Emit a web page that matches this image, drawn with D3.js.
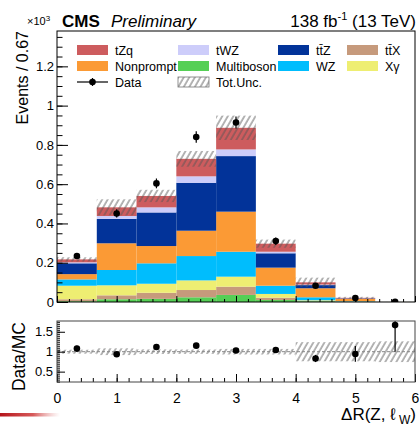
<!DOCTYPE html>
<meta charset="utf-8">
<script src="https://d3js.org/d3.v7.min.js"></script>
<style>
  body { margin: 0; background: #fff; }
  svg text { font-family: "Liberation Sans", Arial, sans-serif; fill: #000; }
</style>
<svg width="420" height="426"></svg>
<script>
// bin edges of dR(Z, l_W), 9 bins of 0.67
var edges = [0, 0.667, 1.333, 2, 2.667, 3.333, 4, 4.667, 5.333, 6];

// process yields per bin (x10^3 events), bottom of the stack first
var multiboson = [0.004, 0.014, 0.016, 0.024, 0.036, 0.010, 0.004, 0.0010, 0.0001];
var ttX        = [0.010, 0.020, 0.031, 0.037, 0.042, 0.012, 0.002, 0.0005, 0.0001];
var xgamma     = [0.069, 0.051, 0.046, 0.049, 0.051, 0.019, 0.003, 0.0010, 0.0];
var wz         = [0.032, 0.078, 0.104, 0.124, 0.127, 0.042, 0.015, 0.0020, 0.0001];
var nonprompt  = [0.027, 0.136, 0.088, 0.129, 0.204, 0.092, 0.046, 0.0110, 0.0001];
var ttZ        = [0.055, 0.124, 0.171, 0.244, 0.283, 0.073, 0.016, 0.0025, 0.0001];
var tWZ        = [0.005, 0.015, 0.026, 0.033, 0.034, 0.008, 0.003, 0.0005, 0.0];
var tZq        = [0.015, 0.044, 0.058, 0.089, 0.110, 0.041, 0.011, 0.0027, 0.0001];

// relative total uncertainty per bin
var totUnc = [0.05, 0.085, 0.058, 0.055, 0.07, 0.07, 0.24, 0.24, 0.26];

// observed data and its error (x10^3 events)
var data    = [0.234, 0.451, 0.604, 0.840, 0.914, 0.310, 0.083, 0.020, 0.001];
var dataErr = [0.015, 0.021, 0.025, 0.029, 0.030, 0.018, 0.009, 0.0042, 0.0004];

var procs = [
  {key: "Multiboson", vals: multiboson, color: "#55cf55"},
  {key: "ttX",        vals: ttX,        color: "#c69a7c"},
  {key: "Xgamma",     vals: xgamma,     color: "#eeee72"},
  {key: "WZ",         vals: wz,         color: "#00bdfd"},
  {key: "Nonprompt",  vals: nonprompt,  color: "#fb9a35"},
  {key: "ttZ",        vals: ttZ,        color: "#023399"},
  {key: "tWZ",        vals: tWZ,        color: "#cdcdfa"},
  {key: "tZq",        vals: tZq,        color: "#cd5c5e"}
];
var colorOf = {};
procs.forEach(function(p) { colorOf[p.key] = p.color; });

// legend rows, 4 columns
var legendRows = [
  [["tZq", "tZq"], ["tWZ", "tWZ"], ["ttZ", "tt\u0304Z"], ["ttX", "tt\u0304X"]],
  [["Nonprompt", "Nonprompt"], ["Multiboson", "Multiboson"], ["WZ", "WZ"], ["Xgamma", "X\u03b3"]],
  [["data", "Data"], ["unc", "Tot.Unc."]]
];

var yTicks = [0, 0.2, 0.4, 0.6, 0.8, 1, 1.2];
var rTicks = [0.5, 1, 1.5];
var xTicks = [0, 1, 2, 3, 4, 5, 6];

var svg = d3.select("svg");
var font = '"Liberation Sans", Arial, sans-serif';
var fmt = d3.format("~g");

var defs = svg.append("defs");
defs.append("pattern")
    .attr("id", "hatch")
    .attr("patternUnits", "userSpaceOnUse")
    .attr("width", 4.8).attr("height", 6)
    .attr("patternTransform", "rotate(30)")
  .append("line")
    .attr("x1", 1).attr("y1", 0).attr("x2", 1).attr("y2", 6)
    .attr("stroke", "#555").attr("stroke-width", 0.9);
defs.append("clipPath").attr("id", "clipMain")
  .append("rect").attr("x", 57).attr("y", 31).attr("width", 358).attr("height", 271);
defs.append("clipPath").attr("id", "clipRatio")
  .append("rect").attr("x", 57).attr("y", 321).attr("width", 358).attr("height", 61);
var grad = defs.append("linearGradient").attr("id", "smear");
grad.append("stop").attr("offset", "0%").attr("stop-color", "#b4141a").attr("stop-opacity", 1);
grad.append("stop").attr("offset", "55%").attr("stop-color", "#cc3030").attr("stop-opacity", 0.8);
grad.append("stop").attr("offset", "100%").attr("stop-color", "#e08080").attr("stop-opacity", 0);

var x = d3.scaleLinear().domain([0, 6]).range([57, 415]);
var y = d3.scaleLinear().domain([0, 1.38]).range([302, 31]);
var yr = d3.scaleLinear().domain([0.24, 1.77]).range([382, 321]);

// stacked histogram
var rows = edges.slice(0, -1).map(function(e, i) {
  var r = {lo: e, hi: edges[i + 1]};
  procs.forEach(function(p) { r[p.key] = p.vals[i]; });
  return r;
});
var stack = d3.stack().keys(procs.map(function(p) { return p.key; }))(rows);
var total = rows.map(function(r, i) {
  return d3.sum(procs, function(p) { return p.vals[i]; });
});

var main = svg.append("g").attr("clip-path", "url(#clipMain)");
main.selectAll("g.layer").data(stack).enter().append("g")
    .attr("fill", function(s) { return colorOf[s.key]; })
  .selectAll("rect").data(function(s) { return s; }).enter().append("rect")
    .attr("x", function(d) { return x(d.data.lo); })
    .attr("width", function(d) { return x(d.data.hi) - x(d.data.lo); })
    .attr("y", function(d) { return y(d[1]); })
    .attr("height", function(d) { return Math.max(0, y(d[0]) - y(d[1])); });

// uncertainty band
main.selectAll("rect.unc").data(rows).enter().append("rect")
    .attr("x", function(d) { return x(d.lo); })
    .attr("width", function(d) { return x(d.hi) - x(d.lo); })
    .attr("y", function(d, i) { return y(total[i] * (1 + totUnc[i])); })
    .attr("height", function(d, i) { return y(total[i] * (1 - totUnc[i])) - y(total[i] * (1 + totUnc[i])); })
    .attr("fill", "url(#hatch)");

// data points
var centers = rows.map(function(r) { return (r.lo + r.hi) / 2; });
main.selectAll("line.err").data(data).enter().append("line")
    .attr("x1", function(d, i) { return x(centers[i]); })
    .attr("x2", function(d, i) { return x(centers[i]); })
    .attr("y1", function(d, i) { return y(d - dataErr[i]); })
    .attr("y2", function(d, i) { return y(d + dataErr[i]); })
    .attr("stroke", "#000").attr("stroke-width", 1.2);
main.selectAll("circle").data(data).enter().append("circle")
    .attr("cx", function(d, i) { return x(centers[i]); })
    .attr("cy", function(d) { return y(d); })
    .attr("r", 3.3).attr("fill", "#000");

// axes of the main panel
function styleAxis(g) {
  g.select(".domain").remove();
  g.selectAll("line").attr("stroke", "#000");
  g.selectAll("text").attr("font-family", font).attr("fill", "#000");
}
svg.append("g").attr("transform", "translate(57,0)")
  .call(d3.axisLeft(y).tickValues(d3.range(0, 1.38, 0.05)).tickSize(-5.5).tickFormat(""))
  .call(styleAxis);
svg.append("g").attr("transform", "translate(57,0)")
  .call(d3.axisLeft(y).tickValues(yTicks).tickSize(-11).tickPadding(3).tickFormat(fmt))
  .call(styleAxis)
  .selectAll("text").attr("font-size", 13);
svg.append("g").attr("transform", "translate(0,302)")
  .call(d3.axisBottom(x).tickValues(d3.range(0, 6.01, 0.2)).tickSize(-3).tickFormat(""))
  .call(styleAxis);
svg.append("g").attr("transform", "translate(0,302)")
  .call(d3.axisBottom(x).tickValues(xTicks).tickSize(-6).tickFormat(""))
  .call(styleAxis);
svg.append("rect").attr("x", 57).attr("y", 31).attr("width", 358).attr("height", 271)
  .attr("fill", "none").attr("stroke", "#000").attr("stroke-width", 1);

// legend
var colX = [77, 178, 278, 347];
var txtX = [115, 216, 316, 385];
var rowY = [50, 66, 82];
var leg = svg.append("g");
legendRows.forEach(function(row, ri) {
  row.forEach(function(ent, ci) {
    var cy = rowY[ri];
    if (ent[0] === "data") {
      leg.append("line").attr("x1", colX[ci]).attr("x2", colX[ci] + 31)
        .attr("y1", cy).attr("y2", cy).attr("stroke", "#000").attr("stroke-width", 1.2);
      leg.append("line").attr("x1", colX[ci] + 15.5).attr("x2", colX[ci] + 15.5)
        .attr("y1", cy - 4).attr("y2", cy + 4).attr("stroke", "#000").attr("stroke-width", 1.2);
      leg.append("circle").attr("cx", colX[ci] + 15.5).attr("cy", cy).attr("r", 3.3).attr("fill", "#000");
    } else if (ent[0] === "unc") {
      leg.append("rect").attr("x", colX[ci]).attr("y", cy - 5).attr("width", 31).attr("height", 10)
        .attr("fill", "url(#hatch)").attr("stroke", "#777").attr("stroke-width", 0.8);
    } else {
      leg.append("rect").attr("x", colX[ci]).attr("y", cy - 5).attr("width", 31).attr("height", 10)
        .attr("fill", colorOf[ent[0]]);
    }
    leg.append("text").attr("x", txtX[ci]).attr("y", cy + 4.5)
      .attr("font-size", 12.5).text(ent[1]);
  });
});

// ratio panel
var ratio = data.map(function(d, i) { return d / total[i]; });
var ratioErr = dataErr.map(function(e, i) { return e / total[i]; });
var rp = svg.append("g").attr("clip-path", "url(#clipRatio)");
rp.selectAll("rect.unc").data(rows).enter().append("rect")
    .attr("x", function(d) { return x(d.lo); })
    .attr("width", function(d) { return x(d.hi) - x(d.lo); })
    .attr("y", function(d, i) { return yr(1 + totUnc[i]); })
    .attr("height", function(d, i) { return yr(1 - totUnc[i]) - yr(1 + totUnc[i]); })
    .attr("fill", "url(#hatch)");
rp.append("line").attr("x1", x(0)).attr("x2", x(6)).attr("y1", yr(1)).attr("y2", yr(1))
  .attr("stroke", "#888").attr("stroke-width", 1).attr("stroke-dasharray", "3,2");
rp.selectAll("line.err").data(ratio).enter().append("line")
    .attr("x1", function(d, i) { return x(centers[i]); })
    .attr("x2", function(d, i) { return x(centers[i]); })
    .attr("y1", function(d, i) { return yr(d - ratioErr[i]); })
    .attr("y2", function(d, i) { return yr(d + ratioErr[i]); })
    .attr("stroke", "#000").attr("stroke-width", 1.2);
rp.selectAll("circle").data(ratio).enter().append("circle")
    .attr("cx", function(d, i) { return x(centers[i]); })
    .attr("cy", function(d) { return yr(d); })
    .attr("r", 3.3).attr("fill", "#000");

svg.append("g").attr("transform", "translate(57,0)")
  .call(d3.axisLeft(yr).tickValues(d3.range(0.25, 1.77, 0.05)).tickSize(-3).tickFormat(""))
  .call(styleAxis);
svg.append("g").attr("transform", "translate(57,0)")
  .call(d3.axisLeft(yr).tickValues(rTicks).tickSize(-8).tickPadding(4).tickFormat(fmt))
  .call(styleAxis)
  .selectAll("text").attr("font-size", 13);
svg.append("g").attr("transform", "translate(0,382)")
  .call(d3.axisBottom(x).tickValues(d3.range(0, 6.01, 0.2)).tickSize(-4).tickFormat(""))
  .call(styleAxis);
svg.append("g").attr("transform", "translate(0,382)")
  .call(d3.axisBottom(x).tickValues(xTicks).tickSize(-8).tickPadding(11).tickFormat(fmt))
  .call(styleAxis)
  .selectAll("text").attr("font-size", 14);
svg.append("rect").attr("x", 57).attr("y", 321).attr("width", 358).attr("height", 61)
  .attr("fill", "none").attr("stroke", "#444").attr("stroke-width", 1);

// titles
svg.append("text").attr("transform", "translate(28,31) rotate(-90)")
  .attr("text-anchor", "end").attr("font-size", 16).text("Events / 0.67");
svg.append("text").attr("transform", "translate(25,322) rotate(-90)")
  .attr("text-anchor", "end").attr("font-size", 17.5).text("Data/MC");
var xt = svg.append("text").attr("x", 416).attr("y", 420)
  .attr("text-anchor", "end").attr("font-size", 17);
xt.append("tspan").text("\u0394R(Z, \u2113");
xt.append("tspan").attr("dy", 4).attr("font-size", 12).text(" W");
xt.append("tspan").attr("dy", -4).text(")");

svg.append("text").attr("x", 27).attr("y", 25).attr("font-size", 11)
  .html('\u00d710<tspan dy="-4" font-size="8">3</tspan>');
svg.append("text").attr("x", 62).attr("y", 26.5).attr("font-size", 17)
  .attr("font-weight", "bold").text("CMS");
svg.append("text").attr("x", 111).attr("y", 26.5).attr("font-size", 17)
  .attr("font-style", "italic").text("Preliminary");
svg.append("text").attr("x", 416).attr("y", 26.5).attr("text-anchor", "end").attr("font-size", 17)
  .html('138 fb<tspan dy="-7" font-size="11">-1</tspan><tspan dy="7"> (13 TeV)</tspan>');

// red streak at lower left
svg.append("rect").attr("x", 0).attr("y", 413).attr("width", 60).attr("height", 3.5)
  .attr("fill", "url(#smear)");
</script>
